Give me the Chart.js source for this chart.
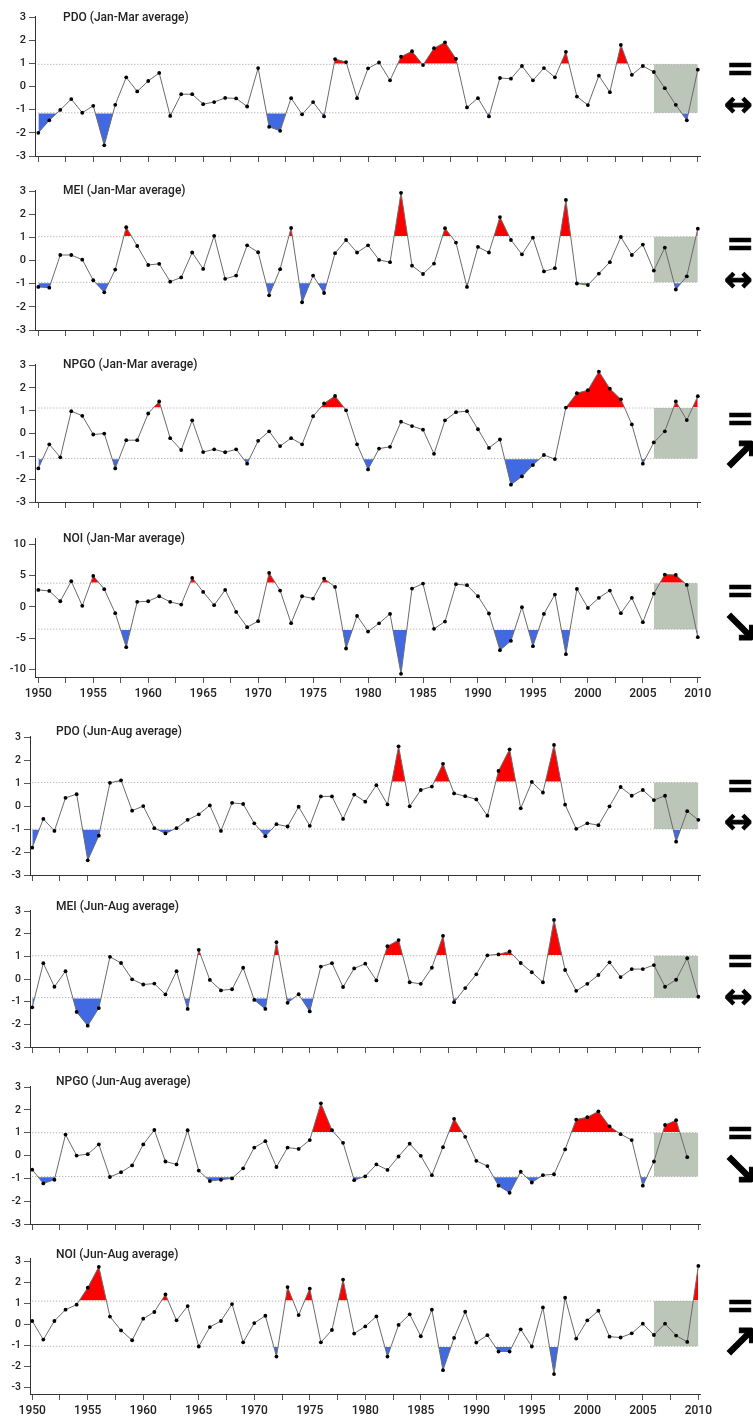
<!DOCTYPE html>
<html>
<head>
<meta charset="utf-8">
<script src="https://cdn.jsdelivr.net/npm/chart.js@4.4.1/dist/chart.umd.min.js"></script>
<style>
  html, body { margin:0; padding:0; background:#fff; }
  body { width:753px; height:1416px; position:relative; overflow:hidden; font-family:Roboto, "Liberation Sans", sans-serif; }
  canvas { position:absolute; left:0; }
  .title { position:absolute; font-family:Roboto, sans-serif; font-weight:500; font-size:12px; color:#222; line-height:14px; white-space:nowrap; }
  .eq { position:absolute; font-family:"DejaVu Sans", sans-serif; font-weight:bold; font-size:34px; line-height:34px; color:#000; -webkit-text-stroke:0.6px #000; }
  .arr { position:absolute; font-family:"DejaVu Sans", sans-serif; font-weight:bold; color:#000; -webkit-text-stroke:1px #000; }
</style>
</head>
<body>
<script>
// ---------- DATA ----------
const years = [1950,1951,1952,1953,1954,1955,1956,1957,1958,1959,
  1960,1961,1962,1963,1964,1965,1966,1967,1968,1969,
  1970,1971,1972,1973,1974,1975,1976,1977,1978,1979,
  1980,1981,1982,1983,1984,1985,1986,1987,1988,1989,
  1990,1991,1992,1993,1994,1995,1996,1997,1998,1999,
  2000,2001,2002,2003,2004,2005,2006,2007,2008,2009,2010];

const xTicks = [1950,1952.5,1955,1957.5,1960,1962.5,1965,1967.5,1970,1972.5,1975,1977.5,
  1980,1982.5,1985,1987.5,1990,1992.5,1995,1997.5,2000,2002.5,2005,2007.5,2010];
const yTicks3 = [-3,-2,-1,0,1,2,3];
const yTicks10 = [-10,-5,0,5,10];
const recentPeriod = [2006, 2010];

const titles = ["PDO (Jan-Mar average)","MEI (Jan-Mar average)","NPGO (Jan-Mar average)","NOI (Jan-Mar average)",
  "PDO (Jun-Aug average)","MEI (Jun-Aug average)","NPGO (Jun-Aug average)","NOI (Jun-Aug average)"];

const pdoJanMar = [-2.00,-1.46,-1.01,-0.54,-1.13,-0.83,-2.54,-0.79,0.40,-0.21,
  0.24,0.59,-1.27,-0.33,-0.33,-0.76,-0.67,-0.49,-0.51,-0.86,
  0.80,-1.74,-1.91,-0.50,-1.20,-0.67,-1.29,1.19,1.06,-0.50,
  0.79,1.04,0.27,1.29,1.53,0.93,1.66,1.91,1.20,-0.90,
  -0.50,-1.29,0.37,0.34,0.89,0.27,0.80,0.40,1.50,-0.43,
  -0.80,0.47,-0.24,1.80,0.51,0.89,0.63,-0.07,-0.79,-1.46,0.73];
const meiJanMar = [-1.14,-1.17,0.24,0.24,0.04,-0.85,-1.37,-0.39,1.44,0.63,
  -0.19,-0.14,-0.91,-0.73,0.35,-0.36,1.07,-0.79,-0.65,0.66,
  0.36,-1.50,-0.37,1.41,-1.80,-0.65,-1.40,0.32,0.89,0.35,
  0.66,0.03,-0.07,2.93,-0.22,-0.58,-0.13,1.40,0.78,-1.14,
  0.59,0.35,1.88,0.89,0.27,0.99,-0.47,-0.33,2.62,-0.99,
  -1.06,-0.56,-0.07,1.02,0.24,0.69,-0.43,0.56,-1.25,-0.68,1.38];
const npgoJanMar = [-1.53,-0.47,-1.04,0.98,0.78,-0.04,0.00,-1.53,-0.29,-0.29,
  0.88,1.41,-0.20,-0.72,0.58,-0.81,-0.69,-0.82,-0.69,-1.32,
  -0.32,0.10,-0.55,-0.20,-0.47,0.76,1.32,1.65,1.02,-0.47,
  -1.57,-0.66,-0.58,0.52,0.33,0.17,-0.89,0.58,0.94,0.98,
  0.19,-0.63,-0.26,-2.24,-1.88,-1.38,-0.94,-1.12,1.14,1.77,
  1.90,2.72,1.97,1.50,0.40,-1.32,-0.39,0.10,1.41,0.59,1.64];
const noiJanMar = [2.71,2.55,0.90,4.10,0.16,4.95,2.82,-1.01,-6.44,0.80,
  0.90,1.70,0.80,0.37,4.63,2.39,0.27,2.71,-0.80,-3.24,
  -2.29,5.43,2.61,-2.61,1.70,1.33,4.52,3.19,-6.65,-1.44,
  -3.94,-2.63,-1.12,-10.7,2.93,3.72,-3.51,-2.34,3.62,3.46,
  1.70,-1.06,-6.91,-5.43,-0.05,-6.28,-1.12,1.97,-7.55,2.87,
  -0.16,1.44,2.61,-1.01,1.44,-2.45,2.13,5.16,5.11,3.51,-4.84];
const pdoJunAug = [-1.81,-0.56,-1.08,0.36,0.52,-2.36,-1.29,1.01,1.12,-0.20,
  0.00,-0.96,-1.19,-0.96,-0.60,-0.36,0.03,-1.08,0.14,0.09,
  -0.75,-1.31,-0.79,-0.89,-0.03,-0.86,0.42,0.42,-0.56,0.50,
  0.19,0.91,0.07,2.60,-0.01,0.70,0.85,1.84,0.55,0.43,
  0.29,-0.42,1.53,2.47,-0.10,1.05,0.59,2.66,0.06,-0.99,
  -0.75,-0.83,-0.01,0.83,0.45,0.70,0.26,0.45,-1.55,-0.22,-0.60];
const meiJunAug = [-1.25,0.70,-0.34,0.35,-1.45,-2.06,-1.28,0.98,0.71,-0.01,
  -0.24,-0.20,-0.68,0.35,-1.32,1.29,-0.04,-0.50,-0.45,0.50,
  -0.92,-1.32,1.63,-1.05,-0.67,-1.43,0.55,0.70,-0.35,0.47,
  0.68,-0.06,1.45,1.72,-0.14,-0.21,0.50,1.91,-1.02,-0.40,
  0.21,1.05,1.09,1.22,0.71,0.30,-0.14,2.61,0.40,-0.52,
  -0.21,0.18,0.74,0.09,0.44,0.44,0.62,-0.34,-0.03,0.92,-0.78];
const npgoJunAug = [-0.62,-1.22,-1.06,0.92,0.00,0.06,0.49,-0.94,-0.73,-0.43,
  0.49,1.12,-0.26,-0.39,1.11,-0.66,-1.12,-1.06,-1.00,-0.56,
  0.35,0.63,-0.50,0.35,0.29,0.68,2.29,1.11,0.56,-1.08,
  -0.91,-0.39,-0.63,-0.04,0.52,-0.01,-0.86,0.37,1.61,0.82,
  -0.23,-0.46,-1.32,-1.63,-0.71,-1.18,-0.86,-0.82,0.27,1.58,
  1.68,1.94,1.28,0.94,0.68,-1.32,-0.26,1.34,1.55,-0.07,null];
const noiJunAug = [0.16,-0.73,0.16,0.70,0.94,1.75,2.75,0.37,-0.29,-0.76,
  0.27,0.59,1.43,0.19,0.87,-1.06,-0.13,0.16,0.97,-0.86,
  0.06,0.41,-1.54,1.78,0.44,1.71,-0.86,-0.27,2.14,-0.44,
  -0.10,0.38,-1.54,-0.03,0.48,-0.57,0.70,-2.19,-0.65,0.60,
  -0.87,-0.52,-1.30,-1.30,-0.24,-1.06,0.81,-2.38,1.27,-0.68,
  0.19,0.65,-0.59,-0.63,-0.43,0.03,-0.51,0.03,-0.54,-0.84,2.79];

// +1 SD / -1 SD thresholds per panel
const upperSD = [0.96, 1.03, 1.12, 3.78, 1.03, 1.03, 1.00, 1.11];
const lowerSD = [-1.13, -0.94, -1.09, -3.56, -1.00, -0.82, -0.92, -1.05];
// trend symbols shown at right
const trendArrows = ["↔","↔","↗","↘","↔","↔","↘","↗"];

const seriesList = [pdoJanMar, meiJanMar, npgoJanMar, noiJanMar, pdoJunAug, meiJunAug, npgoJunAug, noiJunAug];

// ---------- LAYOUT (pixels) ----------
const layoutTop = {L:35, R:700, xMin:1949.7, xMax:2010.2, font:11};
const layoutBot = {L:30, R:700, xMin:1949.8, xMax:2010.15, font:10.5};
const panels = [
  {g:layoutTop, yMin:-3, yMax:3.05, ticks:yTicks3, pTop:16, pBot:156, labeled:false, tx:63, ty:10, sy:51},
  {g:layoutTop, yMin:-3, yMax:3.05, ticks:yTicks3, pTop:190, pBot:330, labeled:false, tx:63, ty:183, sy:226},
  {g:layoutTop, yMin:-3, yMax:3.05, ticks:yTicks3, pTop:364, pBot:502, labeled:false, tx:63, ty:357, sy:401},
  {g:layoutTop, yMin:-11.2, yMax:11, ticks:yTicks10, pTop:538, pBot:677, labeled:true, tx:63, ty:531, sy:573},
  {g:layoutBot, yMin:-3, yMax:3.05, ticks:yTicks3, pTop:736, pBot:875, labeled:false, tx:56, ty:724, sy:768},
  {g:layoutBot, yMin:-3, yMax:3.05, ticks:yTicks3, pTop:910, pBot:1047, labeled:false, tx:56, ty:899, sy:943},
  {g:layoutBot, yMin:-3, yMax:3.05, ticks:yTicks3, pTop:1086, pBot:1224, labeled:false, tx:56, ty:1074, sy:1115},
  {g:layoutBot, yMin:-3.33, yMax:3.17, ticks:yTicks3, pTop:1258, pBot:1394, labeled:true, tx:56, ty:1247, sy:1288},
];

const RED = '#ff0000', BLUE = '#4169e1', BOX = 'rgb(187,198,185)', TRANSP = 'rgba(0,0,0,0)';

panels.forEach((p, i) => {
  const g = p.g;
  const padTop = 12;
  const xh = p.labeled ? 32 : 10;
  const canvas = document.createElement('canvas');
  const h = (p.pBot - p.pTop) + padTop + xh;
  canvas.width = 753; canvas.height = h;
  canvas.style.top = (p.pTop - padTop) + 'px';
  canvas.style.width = '753px'; canvas.style.height = h + 'px';
  document.body.appendChild(canvas);

  const series = seriesList[i];
  const pts = years.map((y, k) => ({x: y, y: series[k]}));
  const hi = upperSD[i], lo = lowerSD[i];
  const x0 = years[0], x1 = years[years.length - 1];

  new Chart(canvas.getContext('2d'), {
    type: 'line',
    data: { datasets: [
      {data: pts, borderColor:'#6b6b6b', borderWidth:1, pointRadius:1.9, pointBackgroundColor:'#000', pointBorderWidth:0, fill:false, order:0, clip:false, tension:0},
      {data: [{x:x0, y:hi},{x:x1, y:hi}], borderColor:'#a0a0a0', borderWidth:1, borderDash:[1,2], pointRadius:0, fill:false, order:1},
      {data: [{x:x0, y:lo},{x:x1, y:lo}], borderColor:'#a0a0a0', borderWidth:1, borderDash:[1,2], pointRadius:0, fill:false, order:1},
      {data: [{x:recentPeriod[0], y:hi},{x:recentPeriod[1], y:hi}], borderWidth:0, borderColor:TRANSP, pointRadius:0, fill:{target:{value:lo}, above:BOX, below:BOX}, order:2},
      {data: [{x:x0, y:hi},{x:x1, y:hi}], borderColor:'#fff', borderWidth:1.6, pointRadius:0, fill:false, order:3},
      {data: [{x:x0, y:lo},{x:x1, y:lo}], borderColor:'#fff', borderWidth:1.6, pointRadius:0, fill:false, order:3},
      {data: pts, borderWidth:0, borderColor:TRANSP, pointRadius:0, fill:{target:{value:hi}, above:RED, below:TRANSP}, order:4, tension:0},
      {data: pts, borderWidth:0, borderColor:TRANSP, pointRadius:0, fill:{target:{value:lo}, above:TRANSP, below:BLUE}, order:5, tension:0},
    ]},
    options: {
      responsive:false, animation:false, devicePixelRatio:1,
      plugins:{ legend:{display:false}, tooltip:{enabled:false} },
      layout:{ padding:{ top:padTop, right:753 - g.R, left:0, bottom:0 } },
      scales:{
        x:{ type:'linear', min:g.xMin, max:g.xMax,
            afterBuildTicks: a => { a.ticks = xTicks.map(v => ({value:v})); },
            ticks:{ autoSkip:false, maxRotation:0, padding:4, color:'#222',
                    font:{family:'Roboto', weight:'500', size: p.labeled ? 12 : 1},
                    callback: v => (p.labeled && v % 5 === 0) ? String(v) : '' },
            grid:{ drawOnChartArea:false, drawTicks:true, tickLength:6, color:'#555', tickWidth:1 },
            border:{ display:true, color:'#333', width:1 },
            afterFit: s => { s.height = xh; } },
        y:{ type:'linear', min:p.yMin, max:p.yMax,
            afterBuildTicks: a => { a.ticks = p.ticks.map(v => ({value:v})); },
            ticks:{ padding:3, color:'#222', font:{family:'Roboto', weight:'500', size:g.font} },
            grid:{ drawOnChartArea:false, drawTicks:true, tickLength:6, color:'#555' },
            border:{ display:true, color:'#333', width:1 },
            afterFit: s => { s.width = g.L; } }
      }
    }
  });

  const t = document.createElement('div');
  t.className = 'title';
  t.textContent = titles[i];
  t.style.left = p.tx + 'px'; t.style.top = p.ty + 'px';
  document.body.appendChild(t);

  const eq = document.createElement('div');
  eq.className = 'eq';
  eq.textContent = '=';
  eq.style.left = '726px'; eq.style.top = p.sy + 'px';
  document.body.appendChild(eq);

  const ar = document.createElement('div');
  ar.className = 'arr';
  ar.textContent = trendArrows[i];
  if (trendArrows[i] === '↔') {
    ar.style.fontSize = '34px'; ar.style.lineHeight = '34px';
    ar.style.left = '724px'; ar.style.top = (p.sy + 36) + 'px';
  } else {
    ar.style.fontSize = '46px'; ar.style.lineHeight = '46px';
    ar.style.left = '721px'; ar.style.top = (p.sy + 31) + 'px';
  }
  document.body.appendChild(ar);
});
</script>
</body>
</html>
